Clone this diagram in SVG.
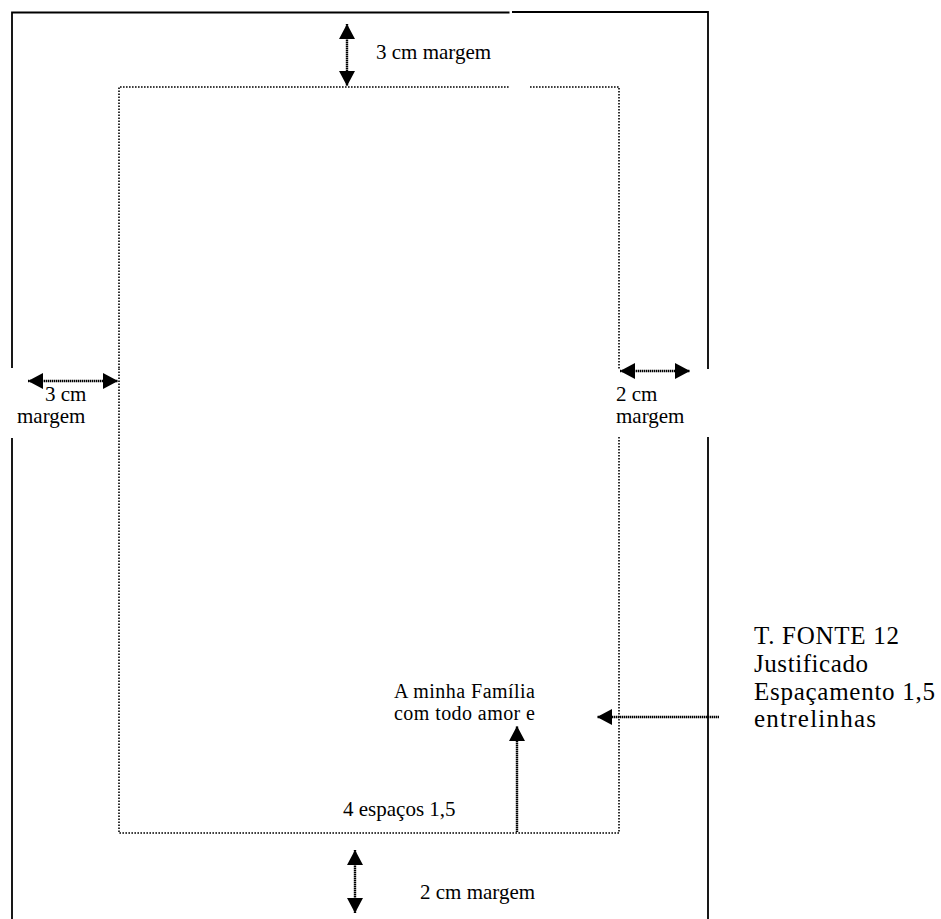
<svg xmlns="http://www.w3.org/2000/svg" width="941" height="919" viewBox="0 0 941 919">
<style>
.page{stroke:#000;stroke-width:1.8;fill:none}
.margin{stroke:#000;stroke-width:1.6;stroke-dasharray:1.6 1.4;fill:none}
.arrow{stroke:#000;stroke-width:2.4;stroke-dasharray:1.4 0.6;fill:none}
.lbl{font-family:"Liberation Serif","Times New Roman",serif;font-size:21px;fill:#000}
.sm{font-size:20px}
.big{font-size:25px}
</style>
<defs>
<marker id="ah" viewBox="0 0 15 16" refX="15" refY="8" markerWidth="15" markerHeight="16" orient="auto-start-reverse" markerUnits="userSpaceOnUse">
<path d="M0,0 L15,8 L0,16 Z" fill="#000"/>
</marker>
</defs>
<rect width="941" height="919" fill="#fff"/>
<g id="page">
<path class="page" d="M12,919 V438 M12,368 V12.5 H509.5 M512,12 H708 V369 M708,437 V919"/>
</g>
<g id="text-area">
<path class="margin" d="M119,368 V87 H510 M530,87 H619 V369 M619,437 V833 H119 V368"/>
</g>
<g id="connectors">
<line class="arrow" x1="347" y1="24" x2="347" y2="86" marker-start="url(#ah)" marker-end="url(#ah)"/>
<line class="arrow" x1="28" y1="381" x2="118" y2="381" marker-start="url(#ah)" marker-end="url(#ah)"/>
<line class="arrow" x1="620" y1="371" x2="690" y2="371" marker-start="url(#ah)" marker-end="url(#ah)"/>
<line class="arrow" x1="517" y1="832" x2="517" y2="726" marker-end="url(#ah)"/>
<line class="arrow" x1="719" y1="717" x2="597" y2="717" marker-end="url(#ah)"/>
<line class="arrow" x1="355" y1="850" x2="355" y2="913" marker-start="url(#ah)" marker-end="url(#ah)"/>
</g>
<g id="label-top"><text class="lbl" x="376" y="59">3 cm margem</text></g>
<g id="label-left"><text class="lbl" x="45" y="401">3 cm</text><text class="lbl" x="17" y="423">margem</text></g>
<g id="label-right"><text class="lbl" x="616" y="401">2 cm</text><text class="lbl" x="616" y="423">margem</text></g>
<g id="label-dedication"><text class="lbl sm" x="394" y="698" textLength="141">A minha Família</text><text class="lbl sm" x="394" y="720" textLength="141">com todo amor e</text></g>
<g id="label-spaces"><text class="lbl" x="343" y="816">4 espaços 1,5</text></g>
<g id="label-bottom"><text class="lbl" x="420" y="899">2 cm margem</text></g>
<g id="label-font">
<text class="lbl big" x="754" y="644" textLength="145">T. FONTE 12</text>
<text class="lbl big" x="754" y="672" textLength="114">Justificado</text>
<text class="lbl big" x="754" y="700" textLength="181">Espaçamento 1,5</text>
<text class="lbl big" x="754" y="727" textLength="122">entrelinhas</text>
</g>
</svg>
